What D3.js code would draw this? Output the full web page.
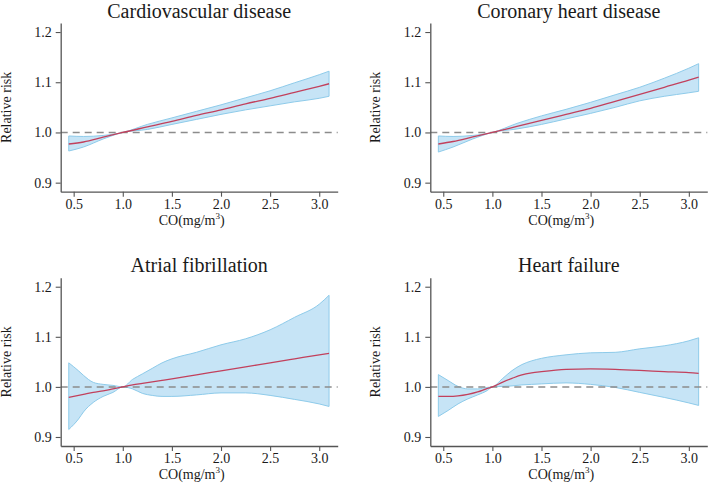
<!DOCTYPE html>
<html>
<head>
<meta charset="utf-8">
<script src="https://cdn.jsdelivr.net/npm/d3@7/dist/d3.min.js"></script>
<style>
  html, body { margin: 0; padding: 0; background: #fff; }
  svg { display: block; }
  svg text { font-family: "Liberation Serif", "DejaVu Serif", serif; }
</style>
</head>
<body>
<svg id="chart" width="709" height="485"></svg>
<script>
// ---- Data ----
const titles = ["Cardiovascular disease", "Coronary heart disease", "Atrial fibrillation", "Heart failure"];
const xTicks = [0.5, 1.0, 1.5, 2.0, 2.5, 3.0];
const yTicks = [0.9, 1.0, 1.1, 1.2];

const cvdX  = [0.45, 0.6, 0.8, 1.0, 1.25, 1.5, 1.75, 2.0, 2.25, 2.5, 2.75, 3.0, 3.1];
const cvdRR = [0.977, 0.981, 0.9905, 1.0, 1.011, 1.022, 1.034, 1.045, 1.057, 1.068, 1.080, 1.092, 1.097];
const cvdLo = [0.963, 0.971, 0.987, 1.0, 1.006, 1.016, 1.026, 1.036, 1.045, 1.053, 1.061, 1.068, 1.072];
const cvdHi = [0.993, 0.992, 0.994, 1.0, 1.016, 1.029, 1.042, 1.055, 1.069, 1.083, 1.099, 1.115, 1.122];

const chdX  = [0.45, 0.6, 0.8, 1.0, 1.25, 1.5, 1.75, 2.0, 2.25, 2.5, 2.75, 3.0, 3.1];
const chdRR = [0.977, 0.982, 0.991, 1.0, 1.012, 1.024, 1.036, 1.048, 1.062, 1.076, 1.090, 1.104, 1.110];
const chdLo = [0.961, 0.971, 0.987, 1.0, 1.007, 1.016, 1.027, 1.038, 1.050, 1.063, 1.072, 1.079, 1.082];
const chdHi = [0.993, 0.992, 0.994, 1.0, 1.018, 1.033, 1.046, 1.060, 1.075, 1.090, 1.108, 1.128, 1.137];

const afX  = [0.45, 0.55, 0.6, 0.7, 0.8, 0.9, 1.0, 1.1, 1.2, 1.3, 1.4, 1.5, 1.75, 2.0, 2.25, 2.5, 2.75, 3.0, 3.1];
const afRR = [0.979, 0.983, 0.985, 0.989, 0.992, 0.996, 1.0, 1.004, 1.007, 1.010, 1.013, 1.016, 1.024, 1.032, 1.040, 1.048, 1.056, 1.064, 1.067];
const afLo = [0.915, 0.936, 0.950, 0.969, 0.981, 0.989, 1.0, 0.996, 0.987, 0.983, 0.981, 0.981, 0.984, 0.988, 0.988, 0.983, 0.975, 0.966, 0.961];
const afHi = [1.048, 1.032, 1.023, 1.009, 1.005, 1.003, 1.0, 1.015, 1.026, 1.037, 1.048, 1.056, 1.069, 1.084, 1.096, 1.114, 1.139, 1.165, 1.183];

const hfX  = [0.45, 0.55, 0.65, 0.75, 0.85, 0.95, 1.0, 1.1, 1.2, 1.3, 1.4, 1.5, 1.75, 2.0, 2.25, 2.5, 2.75, 3.0, 3.1];
const hfRR = [0.981, 0.981, 0.982, 0.985, 0.990, 0.997, 1.0, 1.009, 1.017, 1.024, 1.028, 1.0305, 1.035, 1.036, 1.035, 1.033, 1.0305, 1.0285, 1.027];
const hfLo = [0.941, 0.953, 0.966, 0.976, 0.984, 0.993, 1.0, 1.001, 1.002, 1.004, 1.005, 1.006, 1.008, 1.005, 0.999, 0.989, 0.979, 0.968, 0.963];
const hfHi = [1.0245, 1.0126, 1.001, 0.996, 0.996, 0.999, 1.0, 1.016, 1.0325, 1.0445, 1.052, 1.057, 1.064, 1.068, 1.069, 1.076, 1.082, 1.092, 1.098];

const panelsData = [
  { x: cvdX, rr: cvdRR, lo: cvdLo, hi: cvdHi },
  { x: chdX, rr: chdRR, lo: chdLo, hi: chdHi },
  { x: afX,  rr: afRR,  lo: afLo,  hi: afHi },
  { x: hfX,  rr: hfRR,  lo: hfLo,  hi: hfHi }
];

// ---- Layout ----
const FONT = "'Liberation Serif', 'DejaVu Serif', serif";
const svg = d3.select("#chart");
const colX = [60.7, 430.3];
const rowY = [{ top: 23, bottom: 191.7 }, { top: 277.7, bottom: 446 }];
const axisW = 277;

const axisColor = "#555";
const textColor = "#1a1a1a";

panelsData.forEach((p, i) => {
  const x0 = colX[i % 2];
  const r = rowY[Math.floor(i / 2)];
  const g = svg.append("g");

  const x = d3.scaleLinear().domain([0.368, 3.188]).range([x0, x0 + axisW]);
  const y = d3.scaleLinear().domain([0.882, 1.218]).range([r.bottom, r.top]);

  const pts = p.x.map((v, k) => ({ x: v, rr: p.rr[k], lo: p.lo[k], hi: p.hi[k] }));
  const curve = d3.curveMonotoneX;

  // CI band
  g.append("path")
    .datum(pts)
    .attr("d", d3.area().curve(curve).x(d => x(d.x)).y0(d => y(d.lo)).y1(d => y(d.hi)))
    .attr("fill", "#c6e4f6")
    .attr("stroke", "#8ecbea")
    .attr("stroke-width", 1);

  // Reference dashed line
  g.append("line")
    .attr("x1", x0).attr("x2", x0 + axisW)
    .attr("y1", y(1.0)).attr("y2", y(1.0))
    .attr("stroke", "#8c8c8c")
    .attr("stroke-width", 1.5)
    .attr("stroke-dasharray", "7,5");

  // RR line
  g.append("path")
    .datum(pts)
    .attr("d", d3.line().curve(curve).x(d => x(d.x)).y(d => y(d.rr)))
    .attr("fill", "none")
    .attr("stroke", "#c2405c")
    .attr("stroke-width", 1.3);

  // Axes
  const xAxis = g.append("g")
    .attr("transform", `translate(0,${r.bottom})`)
    .call(d3.axisBottom(x).tickValues(xTicks).tickFormat(d3.format(".1f")).tickSize(5).tickSizeOuter(0).tickPadding(2));
  const yAxis = g.append("g")
    .attr("transform", `translate(${x0},0)`)
    .call(d3.axisLeft(y).tickValues(yTicks).tickFormat(d3.format(".1f")).tickSize(5).tickSizeOuter(0).tickPadding(4));

  [xAxis, yAxis].forEach(a => {
    a.attr("font-family", FONT).attr("font-size", 14);
    a.select(".domain").attr("stroke", axisColor).attr("stroke-width", 1.3);
    a.selectAll(".tick line").attr("stroke", axisColor).attr("stroke-width", 1.1);
    a.selectAll(".tick text")
      .attr("fill", textColor)
      .attr("font-family", FONT)
      .attr("font-size", 14);
  });

  // Title
  g.append("text")
    .attr("x", x0 + axisW / 2)
    .attr("y", r.top - 5.5)
    .attr("text-anchor", "middle")
    .attr("fill", textColor)
    .attr("font-family", FONT)
    .attr("font-size", 20)
    .text(titles[i]);

  // X label
  const xl = g.append("text")
    .attr("x", x0 + 131)
    .attr("y", r.bottom + 33)
    .attr("text-anchor", "middle")
    .attr("fill", textColor)
    .attr("font-family", FONT)
    .attr("font-size", 14);
  xl.append("tspan").text("CO(mg/m");
  xl.append("tspan").attr("dy", -6).attr("font-size", 9).text("3");
  xl.append("tspan").attr("dy", 6).text(")");

  // Y label
  g.append("text")
    .attr("transform", `translate(${x0 - 50},${(r.top + r.bottom) / 2}) rotate(-90)`)
    .attr("text-anchor", "middle")
    .attr("fill", textColor)
    .attr("font-family", FONT)
    .attr("font-size", 14)
    .text("Relative risk");
});
</script>
</body>
</html>
